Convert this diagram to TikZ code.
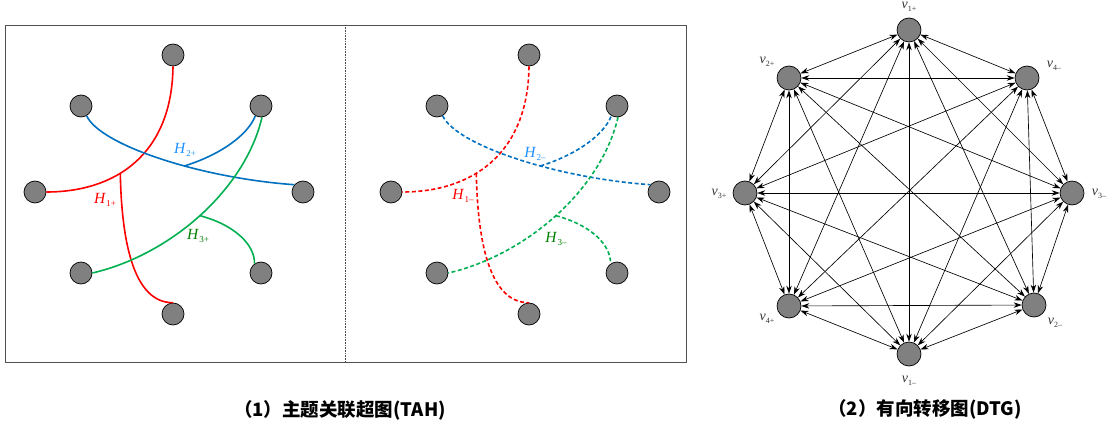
\documentclass[tikz,border=0pt]{standalone}
\usepackage{fontspec}
\setmainfont{Liberation Serif}
\newfontfamily\cjk{Noto Sans CJK SC}
\usetikzlibrary{arrows.meta}
\definecolor{vgray}{RGB}{128,128,128}
\definecolor{hred}{RGB}{255,0,0}
\definecolor{hblue}{RGB}{0,112,192}
\definecolor{hgreen}{RGB}{0,176,80}
\definecolor{lblue}{RGB}{30,144,255}
\definecolor{lgreen}{RGB}{0,128,0}
\definecolor{boxgray}{RGB}{80,80,80}
\newcommand\Hsym[1]{\textit{H}\kern0.2pt\raisebox{-0.35ex}{\fontsize{9}{9}\selectfont #1}}
\newcommand\vsym[1]{\textit{v}\kern0.2pt\raisebox{-0.4ex}{\fontsize{8}{8}\selectfont #1}}
\newcommand\hpanel[2]{%
  \node[hv] (#1t)  at (173,55)  {};
  \node[hv] (#1ul) at (81,106)  {};
  \node[hv] (#1ur) at (261,106) {};
  \node[hv] (#1l)  at (35,192)  {};
  \node[hv] (#1r)  at (303,192) {};
  \node[hv] (#1ll) at (81,273)  {};
  \node[hv] (#1lr) at (261,273) {};
  \node[hv] (#1b)  at (173,314) {};
  % red
  \draw[hline,hred,#2] (#1t.south) .. controls (172,155) and (115,192) .. (#1l.east) coordinate[pos=0.6] (#1j1);
  \draw[hline,hred,#2] (#1j1) .. controls (122,260) and (140,303) .. (#1b.north);
  % blue
  \draw[hline,hblue,#2] (#1ul.-60) .. controls (100,145) and (200,178) .. (#1r.140) coordinate[pos=0.6] (#1j2);
  \draw[hline,hblue,#2] (#1j2) .. controls (220,155) and (248,135) .. (#1ur.-120);
  % green
  \draw[hline,hgreen,#2] (#1ur.-85) .. controls (245,190) and (170,255) .. (#1ll.east) coordinate[pos=0.5] (#1j3);
  \draw[hline,hgreen,#2] (#1j3) .. controls (235,225) and (255,245) .. (#1lr.125);
}
\begin{document}
\begin{tikzpicture}[x=1pt,y=-1pt,
  hv/.style={circle,fill=vgray,draw=black,line width=0.7pt,minimum size=22pt,inner sep=0pt},
  dv/.style={circle,fill=vgray,draw=black,line width=0.7pt,minimum size=24pt,inner sep=0pt},
  hline/.style={line width=1.6pt},
  hdash/.style={dash pattern=on 4pt off 2.5pt},
  hsolid/.style={},
  hlab/.style={font=\fontsize{15.5}{15.5}\selectfont,inner sep=0pt},
  vlab/.style={font=\fontsize{14}{14}\selectfont,inner sep=0pt,text=black!80},
  dedge/.style={line width=0.65pt,{Stealth[length=8pt,width=5.5pt]}-{Stealth[length=8pt,width=5.5pt]}},
  captxt/.style={font=\cjk\bfseries\fontsize{18.5}{18.5}\selectfont,inner sep=0pt}
]
\useasboundingbox (0,0) rectangle (1109,425);
% frame
\draw[boxgray,line width=0.9pt] (5,25) rectangle (686,362);
\draw[boxgray,line width=0.6pt,densely dotted] (345,25) -- (345,362);
% left panel
\hpanel{L}{hsolid}
\node[hlab,text=lblue]  (L2lab) at (185,150) {\Hsym{2+}};
\node[hlab,text=hred]   (L1lab) at (105,200) {\Hsym{1+}};
\node[hlab,text=lgreen] (L3lab) at (198,236) {\Hsym{3+}};
% right panel
\begin{scope}[xshift=356pt]
\hpanel{R}{hdash}
\end{scope}
\node[hlab,text=lblue]  (R2lab) at (535,154) {\Hsym{2\textendash}};
\node[hlab,text=hred]   (R1lab) at (463,196) {\Hsym{1\textendash}};
\node[hlab,text=lgreen] (R3lab) at (556,239) {\Hsym{3\textendash}};
% DTG
\node[dv] (g1) at (909,30)  {};
\node[dv] (g2) at (1027,78) {};
\node[dv] (g3) at (1072,193) {};
\node[dv] (g4) at (1034,305) {};
\node[dv] (g5) at (909,354) {};
\node[dv] (g6) at (789,306) {};
\node[dv] (g7) at (745,193) {};
\node[dv] (g8) at (789,78)  {};
\foreach \i in {1,...,7}{
  \pgfmathtruncatemacro\k{\i+1}
  \foreach \j in {\k,...,8}{
    \draw[dedge] (g\i) -- (g\j);
  }
}
\node[vlab] (l1) at (909,7)   {\vsym{1+}};
\node[vlab] (l2) at (1054,66) {\vsym{4\textendash}};
\node[vlab] (l3) at (1099,194) {\vsym{3\textendash}};
\node[vlab] (l4) at (1055,323) {\vsym{2\textendash}};
\node[vlab] (l5) at (909,381) {\vsym{1\textendash}};
\node[vlab] (l6) at (767,319) {\vsym{4+}};
\node[vlab] (l7) at (719,194) {\vsym{3+}};
\node[vlab] (l8) at (767,62)  {\vsym{2+}};
% captions
\node[captxt] (c1) at (340,410) {（1）主题关联超图(TAH)};
\node[captxt] (c2) at (925,409) {（2）有向转移图(DTG)};
\end{tikzpicture}
\end{document}
